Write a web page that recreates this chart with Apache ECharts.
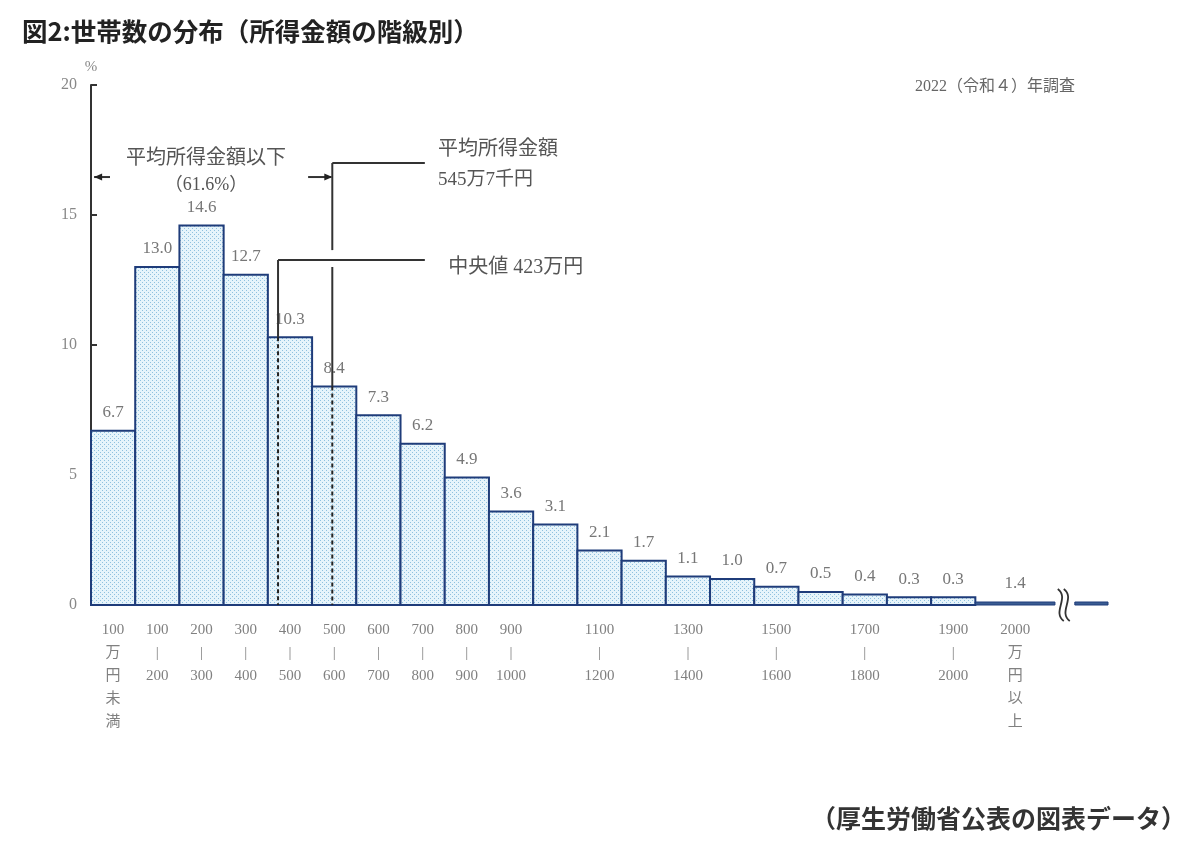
<!DOCTYPE html>
<html>
<head>
<meta charset="utf-8">
<script src="https://cdn.jsdelivr.net/npm/echarts@6/dist/echarts.min.js"></script>
<style>
html,body{margin:0;padding:0;background:#fff;}
#main{width:1200px;height:850px;}
</style>
</head>
<body>
<div id="main"></div>
<script>
// ---- data ----
const categories = ['100万円未満','100～200','200～300','300～400','400～500','500～600','600～700','700～800','800～900','900～1000','1000～1100','1100～1200','1200～1300','1300～1400','1400～1500','1500～1600','1600～1700','1700～1800','1800～1900','1900～2000','2000万円以上'];
const values = [6.7, 13.0, 14.6, 12.7, 10.3, 8.4, 7.3, 6.2, 4.9, 3.6, 3.1, 2.1, 1.7, 1.1, 1.0, 0.7, 0.5, 0.4, 0.3, 0.3, 1.4];
const tickLabels = ['100\n万\n円\n未\n満','100\n|\n200','200\n|\n300','300\n|\n400','400\n|\n500','500\n|\n600','600\n|\n700','700\n|\n800','800\n|\n900','900\n|\n1000','','1100\n|\n1200','','1300\n|\n1400','','1500\n|\n1600','','1700\n|\n1800','','1900\n|\n2000','2000\n万\n円\n以\n上'];
const yTicks = [0, 5, 10, 15, 20];
const medianIncome = 423;     // 万円
const meanIncome = 545.7;     // 万円
const belowMeanShare = 61.6;  // %
const titleText = '図2:世帯数の分布（所得金額の階級別）';
const sourceText = '（厚生労働省公表の図表データ）';
const surveyText = '2022（令和４）年調査';

// ---- styles ----
const NAVY = '#1f3c7a';
const SERIF = '"Liberation Serif", "Noto Sans CJK JP", serif';
const pat = document.createElement('canvas');
pat.width = 4; pat.height = 4;
const pc = pat.getContext('2d');
pc.fillStyle = '#e6f4fb'; pc.fillRect(0, 0, 4, 4);
pc.fillStyle = '#8fc1df';
pc.fillRect(0, 0, 1, 1); pc.fillRect(2, 2, 1, 1);
const fillPattern = { image: pat, repeat: 'repeat' };

const OPEN_BIN_WIDTH = 1.8; // drawn width of the open-ended class (axis broken)
const barData = values.map((v, i) => [i, i === values.length - 1 ? i + OPEN_BIN_WIDTH : i + 1, v, i]);

function renderBar(params, api) {
  const i = api.value(3);
  const x0 = api.value(0), x1 = api.value(1), v = api.value(2);
  const base = api.coord([x0, 0]);
  const topPt = api.coord([x1, v]);
  const open = i === values.length - 1;
  const top = open ? base[1] - 3 : topPt[1];
  const cx = (base[0] + topPt[0]) / 2;
  const children = [];
  children.push({
    type: 'rect',
    shape: { x: base[0], y: top, width: topPt[0] - base[0], height: base[1] - top },
    style: open ? { fill: '#3a5c92', stroke: NAVY, lineWidth: 1 } : { fill: fillPattern, stroke: NAVY, lineWidth: 2 }
  });
  children.push({
    type: 'text', x: cx, y: top - 18,
    style: { text: values[i].toFixed(1), fill: '#777', fontSize: 17, fontFamily: SERIF, align: 'center', verticalAlign: 'middle' }
  });
  if (tickLabels[i]) {
    children.push({
      type: 'text', x: cx, y: base[1] + 14,
      style: { text: tickLabels[i], fill: '#808080', fontSize: 15, fontFamily: SERIF, align: 'center', verticalAlign: 'top', lineHeight: 23 }
    });
  }
  if (open) {
    // axis break and continuation
    const bx = api.coord([22.0, 0])[0];
    const by = base[1];
    [-3, 3].forEach(d => {
      children.push({
        type: 'bezierCurve',
        shape: { x1: bx + d - 3, y1: by - 16, cpx1: bx + d + 9, cpy1: by - 7, cpx2: bx + d - 9, cpy2: by + 7, x2: bx + d + 3, y2: by + 16 },
        style: { stroke: '#333', lineWidth: 1.8, fill: null }
      });
    });
    const s0 = api.coord([22.25, 0]), s1 = api.coord([23, 0]);
    children.push({
      type: 'rect',
      shape: { x: s0[0], y: by - 3, width: s1[0] - s0[0], height: 3 },
      style: { fill: '#3a5c92', stroke: NAVY, lineWidth: 1 }
    });
  }
  return { type: 'group', children };
}

function renderNotes(params, api) {
  const medX = medianIncome / 100, meanX = meanIncome / 100;
  const medBar = values[Math.floor(medX)], meanBar = values[Math.floor(meanX)];
  const c = (x, y) => api.coord([x, y]);
  const line = (p, q, dash) => ({
    type: 'line', shape: { x1: p[0], y1: p[1], x2: q[0], y2: q[1] },
    style: { stroke: dash ? '#222' : '#333', lineWidth: 2, lineDash: dash ? [4, 3] : null }
  });
  const txt = (p, t, align, size) => ({
    type: 'text', x: p[0], y: p[1],
    style: { text: t, fill: '#555', fontSize: size || 17, fontFamily: SERIF, align: align, verticalAlign: 'middle' }
  });
  const lineEnd = 7.55;
  const medTop = 13.27, meanTop = 17.0, arrowY = 16.46;
  const ch = [];
  // median
  ch.push(line(c(medX, medTop), c(lineEnd, medTop)));
  ch.push(line(c(medX, medTop), c(medX, medBar)));
  ch.push(line(c(medX, medBar), c(medX, 0), true));
  // mean
  ch.push(line(c(meanX, meanTop), c(lineEnd, meanTop)));
  ch.push(line(c(meanX, meanTop), c(meanX, 13.65)));
  ch.push(line(c(meanX, 13.0), c(meanX, meanBar)));
  ch.push(line(c(meanX, meanBar), c(meanX, 0), true));
  // arrows
  const a0 = c(0.07, arrowY), a1 = c(0.43, arrowY);
  ch.push(line(a0, a1));
  ch.push({ type: 'polygon', shape: { points: [[a0[0], a0[1]], [a0[0] + 8, a0[1] - 3.5], [a0[0] + 8, a0[1] + 3.5]] }, style: { fill: '#222' } });
  const b0 = c(4.91, arrowY), b1 = c(meanX, arrowY);
  ch.push(line(b0, [b1[0] - 1, b1[1]]));
  ch.push({ type: 'polygon', shape: { points: [[b1[0], b1[1]], [b1[0] - 8, b1[1] - 3.5], [b1[0] - 8, b1[1] + 3.5]] }, style: { fill: '#222' } });
  // texts
  ch.push(txt(c(2.6, 17.15), '平均所得金額以下', 'center', 20));
  ch.push(txt(c(2.6, 16.15), '（' + belowMeanShare.toFixed(1) + '%）', 'center', 18));
  ch.push(txt(c(7.85, 17.5), '平均所得金額', 'left', 20));
  ch.push(txt(c(7.85, 16.35), '545万7千円', 'left', 19));
  ch.push(txt(c(8.08, 12.96), '中央値 ' + medianIncome + '万円', 'left', 20));
  return { type: 'group', children: ch };
}

const chart = echarts.init(document.getElementById('main'));
chart.setOption({
  backgroundColor: '#fff',
  animation: false,
  grid: { left: 91, right: 92, top: 85, bottom: 245 },
  xAxis: {
    type: 'value', min: 0, max: 23,
    axisLine: { show: false }, axisTick: { show: false }, axisLabel: { show: false }, splitLine: { show: false }
  },
  yAxis: {
    type: 'value', min: yTicks[0], max: yTicks[yTicks.length - 1], interval: yTicks[1] - yTicks[0],
    name: '%', nameLocation: 'end', nameGap: 10,
    nameTextStyle: { color: '#888', fontSize: 15, fontFamily: SERIF, align: 'center' },
    axisLine: { show: true, lineStyle: { color: '#333', width: 2 } },
    axisTick: { show: true, inside: true, length: 6, lineStyle: { color: '#333', width: 2 } },
    axisLabel: { color: '#888', fontSize: 16, fontFamily: SERIF, margin: 14 },
    splitLine: { show: false }
  },
  graphic: [
    { type: 'text', left: 22, top: 19, style: { text: titleText, fill: '#222', fontSize: 25.5, fontWeight: 'bold', fontFamily: '"Noto Sans CJK JP", sans-serif' } },
    { type: 'text', right: 14, top: 806, style: { text: sourceText, fill: '#333', fontSize: 25, fontWeight: 'bold', fontFamily: '"Noto Sans CJK JP", sans-serif' } },
    { type: 'text', right: 125, top: 79, style: { text: surveyText, fill: '#666', fontSize: 16, fontFamily: SERIF } }
  ],
  series: [
    {
      type: 'custom', name: '世帯数の割合', renderItem: renderBar,
      encode: { x: [0, 1], y: 2 }, data: barData, z: 2
    },
    {
      type: 'custom', name: 'notes', renderItem: renderNotes,
      data: [[0, 0]], z: 5, silent: true
    }
  ]
});
</script>
</body>
</html>
